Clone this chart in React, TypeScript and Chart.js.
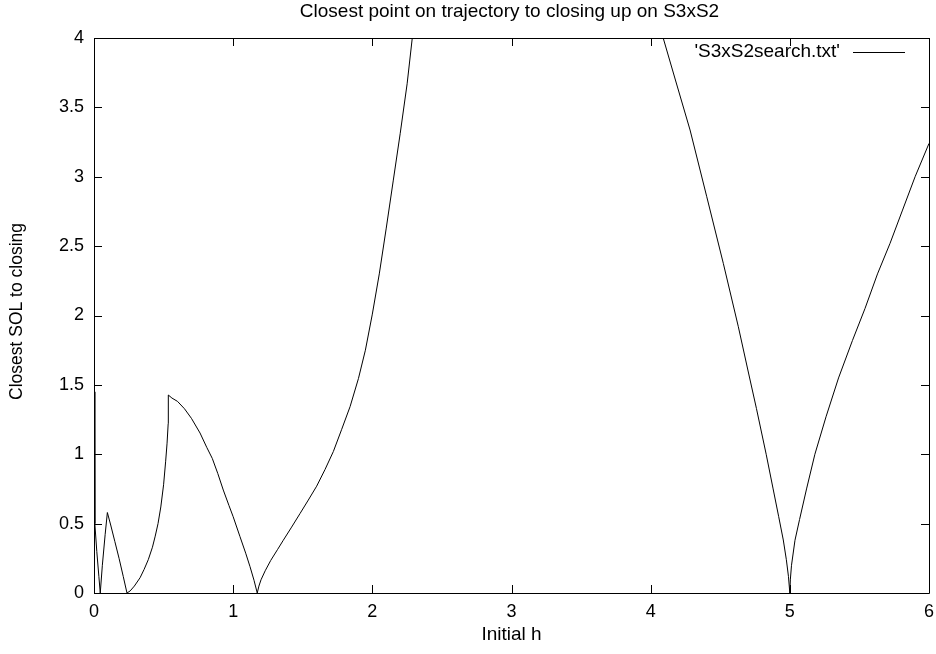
import React, { useEffect, useRef } from "react";
import { Chart, registerables } from "chart.js";

Chart.register(...registerables);

const chartTitle = "Closest point on trajectory to closing up on S3xS2";
const xAxisTitle = "Initial h";
const yAxisTitle = "Closest SOL to closing";
const seriesLabel = "'S3xS2search.txt'";

const xTickValues = [0, 1, 2, 3, 4, 5, 6];
const xTickLabels = ["0", "1", "2", "3", "4", "5", "6"];
const yTickValues = [0, 0.5, 1, 1.5, 2, 2.5, 3, 3.5, 4];
const yTickLabels = ["0", "0.5", "1", "1.5", "2", "2.5", "3", "3.5", "4"];

const hValues = [
  0.003, 0.006, 0.02, 0.035, 0.045,
  0.06, 0.08, 0.096,
  0.12, 0.15, 0.18, 0.21, 0.237,
  0.26, 0.29, 0.331, 0.36, 0.39, 0.42, 0.44, 0.46, 0.48, 0.5, 0.515, 0.525, 0.533, 0.534,
  0.56, 0.6, 0.65, 0.7, 0.762, 0.81, 0.85, 0.89, 0.929, 0.97, 1.0, 1.049, 1.09, 1.121, 1.15, 1.173,
  1.185, 1.2, 1.23, 1.27, 1.32, 1.36, 1.42, 1.48, 1.54, 1.6, 1.66, 1.72, 1.78, 1.84, 1.9, 1.95, 2.0, 2.05, 2.1, 2.15, 2.2, 2.25, 2.287, 2.32,
  4.05, 4.09, 4.18, 4.283, 4.403, 4.522, 4.63, 4.7, 4.76, 4.83, 4.88, 4.92, 4.953, 4.975, 4.99, 5.0,
  5.004, 5.012, 5.037, 5.07, 5.12, 5.18, 5.26, 5.35, 5.45, 5.54, 5.63, 5.72, 5.81, 5.9, 6.0,
];

const solValues = [
  1.45, 0.5, 0.3, 0.12, 0.0,
  0.2, 0.42, 0.58,
  0.49, 0.37, 0.25, 0.12, 0.0,
  0.015, 0.05, 0.11, 0.17, 0.24, 0.33, 0.41, 0.5, 0.62, 0.78, 0.95, 1.08, 1.22, 1.427,
  1.405, 1.381, 1.328, 1.259, 1.153, 1.05, 0.97, 0.86, 0.742, 0.63, 0.55, 0.406, 0.287, 0.19, 0.091, 0.0,
  0.05, 0.095, 0.16, 0.235, 0.315, 0.38, 0.475, 0.572, 0.67, 0.77, 0.89, 1.02, 1.18, 1.343, 1.545, 1.75, 2.01, 2.3, 2.63, 2.97, 3.31, 3.67, 4.0, 4.3,
  4.3, 4.0, 3.69, 3.337, 2.856, 2.376, 1.919, 1.6, 1.33, 1.0, 0.75, 0.55, 0.382, 0.24, 0.12, 0.0,
  0.1, 0.2, 0.38, 0.53, 0.75, 1.0, 1.27, 1.55, 1.82, 2.05, 2.3, 2.52, 2.76, 3.0, 3.24,
];

const FONT_FAMILY = "'Liberation Sans', Arial, Helvetica, sans-serif";
const TICK_FONT_SIZE = 18;
const TITLE_FONT_SIZE = 19;
const XTITLE_FONT_SIZE = 19;
const YTITLE_FONT_SIZE = 17.5;
const LEGEND_FONT_SIZE = 19;

const framePlugin = {
  id: "gnuplotFrame",
  afterDraw(chart: any) {
    const { ctx, chartArea } = chart;
    const xs = chart.scales.x;
    const ys = chart.scales.y;
    const { left, right, top, bottom } = chartArea;
    ctx.save();
    ctx.strokeStyle = "#000";
    ctx.lineWidth = 1;
    ctx.beginPath();
    ctx.rect(left + 0.5, top + 0.5, right - left, bottom - top);
    ctx.stroke();
    const tl = 8;
    ctx.beginPath();
    xTickValues.forEach((v) => {
      const px = Math.round(xs.getPixelForValue(v)) + 0.5;
      ctx.moveTo(px, bottom);
      ctx.lineTo(px, bottom - tl);
      ctx.moveTo(px, top);
      ctx.lineTo(px, top + tl);
    });
    yTickValues.forEach((v) => {
      const py = Math.round(ys.getPixelForValue(v)) + 0.5;
      ctx.moveTo(left, py);
      ctx.lineTo(left + tl, py);
      ctx.moveTo(right, py);
      ctx.lineTo(right - tl, py);
    });
    ctx.stroke();

    ctx.fillStyle = "#000";
    ctx.font = `${TICK_FONT_SIZE}px ${FONT_FAMILY}`;
    ctx.textBaseline = "middle";
    ctx.textAlign = "center";
    xTickValues.forEach((v, i) => {
      ctx.fillText(xTickLabels[i], xs.getPixelForValue(v), bottom + 19);
    });
    ctx.textAlign = "right";
    yTickValues.forEach((v, i) => {
      ctx.fillText(yTickLabels[i], left - 10, ys.getPixelForValue(v));
    });

    const cx = (left + right) / 2;
    ctx.textAlign = "center";
    ctx.font = `${TITLE_FONT_SIZE}px ${FONT_FAMILY}`;
    ctx.fillText(chartTitle, cx - 2, 12);
    ctx.font = `${XTITLE_FONT_SIZE}px ${FONT_FAMILY}`;
    ctx.fillText(xAxisTitle, cx, 635);
    ctx.save();
    ctx.font = `${YTITLE_FONT_SIZE}px ${FONT_FAMILY}`;
    ctx.translate(17, (top + bottom) / 2 - 4);
    ctx.rotate(-Math.PI / 2);
    ctx.fillText(yAxisTitle, 0, 0);
    ctx.restore();

    ctx.font = `${LEGEND_FONT_SIZE}px ${FONT_FAMILY}`;
    ctx.textAlign = "right";
    ctx.fillText(seriesLabel, 840, 52);
    ctx.beginPath();
    ctx.moveTo(853, 52.5);
    ctx.lineTo(905, 52.5);
    ctx.stroke();
    ctx.restore();
  },
};

export default function App() {
  const ref = useRef<HTMLCanvasElement | null>(null);
  useEffect(() => {
    if (!ref.current) return;
    const points = hValues.map((h, i) => ({ x: h, y: solValues[i] }));
    const chart = new Chart(ref.current, {
      type: "scatter",
      data: {
        datasets: [
          {
            label: seriesLabel,
            data: points,
            showLine: true,
            borderColor: "#000",
            borderWidth: 1,
            pointRadius: 0,
            tension: 0,
            fill: false,
          },
        ],
      },
      options: {
        animation: false,
        responsive: false,
        layout: { padding: { left: 0, right: 7, top: 38, bottom: 0 } },
        plugins: {
          legend: { display: false },
          tooltip: { enabled: false },
          title: { display: false },
        },
        scales: {
          x: {
            type: "linear",
            min: 0,
            max: 6,
            grid: { display: false, drawTicks: false },
            border: { display: false },
            ticks: { display: false, stepSize: 1 },
            afterFit: (s: any) => {
              s.height = 61;
            },
          },
          y: {
            type: "linear",
            min: 0,
            max: 4,
            grid: { display: false, drawTicks: false },
            border: { display: false },
            ticks: { display: false, stepSize: 0.5 },
            afterFit: (s: any) => {
              s.width = 94;
            },
          },
        },
      },
      plugins: [framePlugin],
    });
    return () => chart.destroy();
  }, []);
  return (
    <div style={{ position: "fixed", left: 0, top: 0, width: 936, height: 654, background: "#fff" }}>
      <canvas ref={ref} width={936} height={654} style={{ width: 936, height: 654 }} />
    </div>
  );
}
